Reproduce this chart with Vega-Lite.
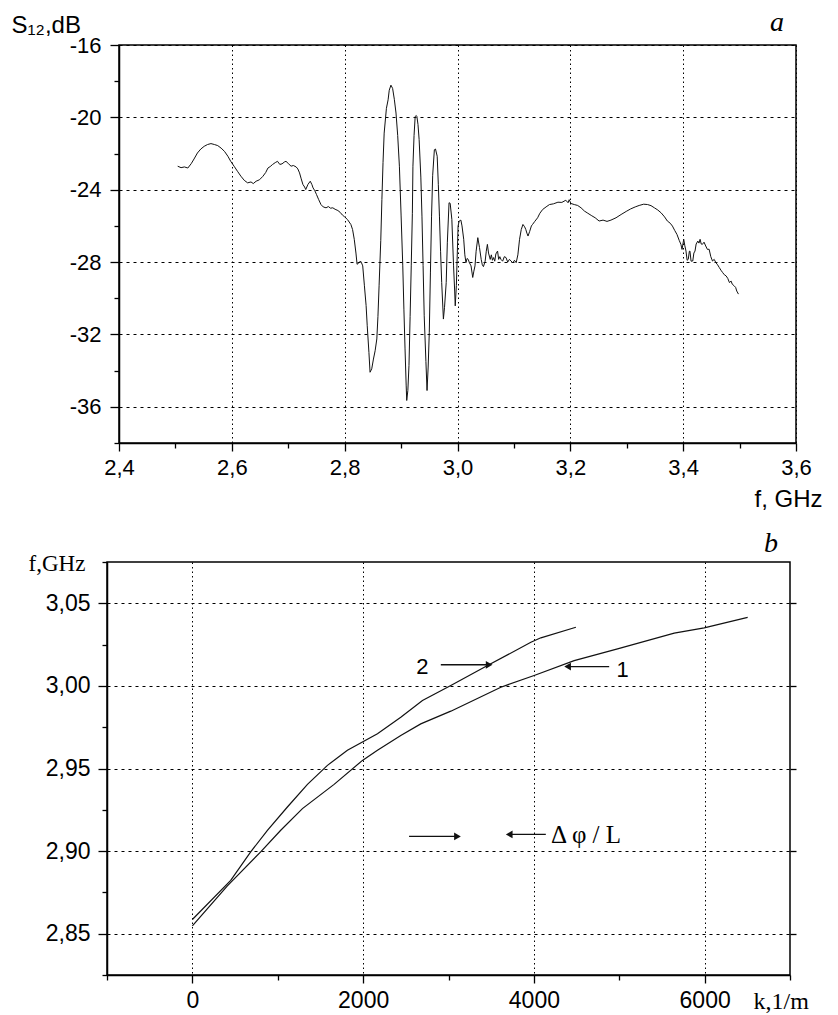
{
  "$schema": "https://vega.github.io/schema/vega-lite/v6.json",
  "padding": {"left": 10, "top": 8, "right": 5, "bottom": 5},
  "spacing": 17,
  "background": "#ffffff",
  "config": {
    "view": {"stroke": "#000", "strokeWidth": 1.5},
    "axis": {"domainColor": "#000", "domainWidth": 1.5, "tickColor": "#000", "tickWidth": 1.3, "labelColor": "#000", "titleColor": "#000", "gridColor": "#000", "gridWidth": 1, "labelFlush": false, "labelOverlap": false, "labelBound": false, "titleFontWeight": "normal", "labelFont": "Liberation Sans"},
    "title": {"color": "#000"}
  },
  "datasets": {
    "s12": [
      {"f":2.504,"db":-22.70},{"f":2.510,"db":-22.78},{"f":2.516,"db":-22.74},{"f":2.522,"db":-22.80},{"f":2.528,"db":-22.56},{"f":2.533,"db":-22.30},{"f":2.539,"db":-21.97},{"f":2.545,"db":-21.75},{"f":2.551,"db":-21.60},{"f":2.557,"db":-21.50},{"f":2.563,"db":-21.45},{"f":2.569,"db":-21.50},{"f":2.575,"db":-21.56},{"f":2.581,"db":-21.70},{"f":2.587,"db":-21.88},{"f":2.593,"db":-22.15},{"f":2.598,"db":-22.43},{"f":2.604,"db":-22.70},{"f":2.610,"db":-22.98},{"f":2.616,"db":-23.25},{"f":2.622,"db":-23.48},{"f":2.628,"db":-23.62},{"f":2.634,"db":-23.57},{"f":2.638,"db":-23.66},{"f":2.643,"db":-23.53},{"f":2.649,"db":-23.45},{"f":2.655,"db":-23.26},{"f":2.660,"db":-23.05},{"f":2.664,"db":-22.80},{"f":2.668,"db":-22.72},{"f":2.672,"db":-22.61},{"f":2.677,"db":-22.50},{"f":2.681,"db":-22.43},{"f":2.685,"db":-22.60},{"f":2.689,"db":-22.57},{"f":2.693,"db":-22.47},{"f":2.696,"db":-22.43},{"f":2.700,"db":-22.55},{"f":2.705,"db":-22.70},{"f":2.709,"db":-22.66},{"f":2.714,"db":-22.74},{"f":2.717,"db":-22.85},{"f":2.720,"db":-23.07},{"f":2.723,"db":-23.40},{"f":2.726,"db":-23.71},{"f":2.729,"db":-23.85},{"f":2.731,"db":-23.99},{"f":2.735,"db":-23.70},{"f":2.739,"db":-23.53},{"f":2.742,"db":-23.72},{"f":2.744,"db":-23.90},{"f":2.747,"db":-24.05},{"f":2.750,"db":-24.26},{"f":2.754,"db":-24.55},{"f":2.758,"db":-24.82},{"f":2.762,"db":-24.95},{"f":2.767,"db":-25.00},{"f":2.771,"db":-24.93},{"f":2.775,"db":-25.02},{"f":2.779,"db":-25.00},{"f":2.783,"db":-25.08},{"f":2.788,"db":-25.15},{"f":2.792,"db":-25.25},{"f":2.796,"db":-25.40},{"f":2.800,"db":-25.50},{"f":2.805,"db":-25.65},{"f":2.811,"db":-25.92},{"f":2.814,"db":-26.20},{"f":2.817,"db":-26.74},{"f":2.820,"db":-27.50},{"f":2.822,"db":-28.12},{"f":2.825,"db":-28.05},{"f":2.828,"db":-27.94},{"f":2.830,"db":-28.05},{"f":2.832,"db":-28.21},{"f":2.835,"db":-29.31},{"f":2.838,"db":-30.40},{"f":2.840,"db":-31.52},{"f":2.843,"db":-33.00},{"f":2.845,"db":-34.09},{"f":2.848,"db":-33.90},{"f":2.851,"db":-33.36},{"f":2.854,"db":-32.90},{"f":2.857,"db":-32.25},{"f":2.859,"db":-31.00},{"f":2.861,"db":-29.31},{"f":2.864,"db":-26.80},{"f":2.866,"db":-24.54},{"f":2.868,"db":-22.50},{"f":2.870,"db":-20.87},{"f":2.874,"db":-19.50},{"f":2.877,"db":-19.03},{"f":2.879,"db":-18.50},{"f":2.882,"db":-18.22},{"f":2.885,"db":-18.40},{"f":2.888,"db":-19.00},{"f":2.891,"db":-19.76},{"f":2.894,"db":-21.00},{"f":2.897,"db":-22.70},{"f":2.900,"db":-25.40},{"f":2.903,"db":-28.21},{"f":2.905,"db":-30.60},{"f":2.907,"db":-32.80},{"f":2.909,"db":-34.80},{"f":2.910,"db":-35.65},{"f":2.912,"db":-35.10},{"f":2.914,"db":-33.72},{"f":2.916,"db":-31.00},{"f":2.918,"db":-28.21},{"f":2.920,"db":-25.30},{"f":2.921,"db":-22.70},{"f":2.923,"db":-21.00},{"f":2.925,"db":-19.95},{"f":2.927,"db":-19.90},{"f":2.928,"db":-19.95},{"f":2.930,"db":-20.40},{"f":2.932,"db":-21.23},{"f":2.935,"db":-23.30},{"f":2.937,"db":-25.46},{"f":2.939,"db":-28.20},{"f":2.941,"db":-30.97},{"f":2.944,"db":-33.50},{"f":2.946,"db":-35.10},{"f":2.948,"db":-33.80},{"f":2.950,"db":-31.88},{"f":2.952,"db":-28.60},{"f":2.954,"db":-25.46},{"f":2.956,"db":-23.20},{"f":2.959,"db":-21.79},{"f":2.961,"db":-21.75},{"f":2.964,"db":-22.15},{"f":2.966,"db":-23.70},{"f":2.968,"db":-25.46},{"f":2.970,"db":-27.40},{"f":2.972,"db":-29.13},{"f":2.975,"db":-31.15},{"f":2.977,"db":-30.50},{"f":2.980,"db":-29.13},{"f":2.982,"db":-26.90},{"f":2.985,"db":-24.72},{"f":2.987,"db":-24.75},{"f":2.990,"db":-25.64},{"f":2.993,"db":-28.21},{"f":2.995,"db":-29.60},{"f":2.996,"db":-30.42},{"f":2.998,"db":-29.30},{"f":2.999,"db":-28.21},{"f":3.001,"db":-26.01},{"f":3.003,"db":-25.73},{"f":3.006,"db":-25.68},{"f":3.008,"db":-26.00},{"f":3.011,"db":-26.74},{"f":3.013,"db":-27.60},{"f":3.015,"db":-28.03},{"f":3.017,"db":-27.80},{"f":3.019,"db":-27.85},{"f":3.021,"db":-28.03},{"f":3.024,"db":-28.21},{"f":3.027,"db":-28.85},{"f":3.029,"db":-28.50},{"f":3.031,"db":-28.21},{"f":3.033,"db":-27.40},{"f":3.036,"db":-26.65},{"f":3.039,"db":-27.20},{"f":3.042,"db":-27.85},{"f":3.044,"db":-28.15},{"f":3.046,"db":-28.25},{"f":3.049,"db":-27.95},{"f":3.051,"db":-27.40},{"f":3.053,"db":-27.02},{"f":3.055,"db":-27.50},{"f":3.058,"db":-27.85},{"f":3.060,"db":-27.60},{"f":3.062,"db":-27.90},{"f":3.064,"db":-27.75},{"f":3.066,"db":-27.95},{"f":3.068,"db":-27.55},{"f":3.071,"db":-27.39},{"f":3.073,"db":-27.85},{"f":3.075,"db":-27.70},{"f":3.077,"db":-27.85},{"f":3.080,"db":-27.95},{"f":3.083,"db":-27.70},{"f":3.086,"db":-27.75},{"f":3.089,"db":-28.00},{"f":3.092,"db":-27.85},{"f":3.095,"db":-27.94},{"f":3.098,"db":-28.05},{"f":3.101,"db":-27.90},{"f":3.104,"db":-28.03},{"f":3.107,"db":-27.60},{"f":3.110,"db":-26.74},{"f":3.113,"db":-26.20},{"f":3.116,"db":-25.92},{"f":3.119,"db":-26.05},{"f":3.121,"db":-26.19},{"f":3.123,"db":-26.40},{"f":3.125,"db":-26.56},{"f":3.128,"db":-26.30},{"f":3.131,"db":-26.00},{"f":3.133,"db":-25.92},{"f":3.137,"db":-25.75},{"f":3.142,"db":-25.55},{"f":3.146,"db":-25.30},{"f":3.151,"db":-25.09},{"f":3.157,"db":-24.95},{"f":3.163,"db":-24.82},{"f":3.170,"db":-24.78},{"f":3.178,"db":-24.69},{"f":3.185,"db":-24.70},{"f":3.192,"db":-24.58},{"f":3.196,"db":-24.72},{"f":3.198,"db":-24.55},{"f":3.201,"db":-24.76},{"f":3.207,"db":-24.82},{"f":3.213,"db":-24.87},{"f":3.219,"db":-25.00},{"f":3.225,"db":-25.18},{"f":3.231,"db":-25.30},{"f":3.237,"db":-25.42},{"f":3.244,"db":-25.55},{"f":3.251,"db":-25.73},{"f":3.258,"db":-25.68},{"f":3.265,"db":-25.75},{"f":3.272,"db":-25.68},{"f":3.281,"db":-25.55},{"f":3.290,"db":-25.37},{"f":3.299,"db":-25.20},{"f":3.307,"db":-25.06},{"f":3.315,"db":-24.95},{"f":3.322,"db":-24.87},{"f":3.330,"db":-24.80},{"f":3.337,"db":-24.82},{"f":3.343,"db":-24.88},{"f":3.349,"db":-25.00},{"f":3.355,"db":-25.12},{"f":3.361,"db":-25.28},{"f":3.367,"db":-25.50},{"f":3.372,"db":-25.73},{"f":3.377,"db":-25.85},{"f":3.381,"db":-26.01},{"f":3.385,"db":-26.25},{"f":3.389,"db":-26.47},{"f":3.393,"db":-26.80},{"f":3.396,"db":-27.02},{"f":3.398,"db":-27.30},{"f":3.401,"db":-26.74},{"f":3.403,"db":-27.10},{"f":3.405,"db":-27.39},{"f":3.407,"db":-27.90},{"f":3.409,"db":-27.85},{"f":3.411,"db":-27.40},{"f":3.412,"db":-27.39},{"f":3.414,"db":-27.95},{"f":3.417,"db":-27.94},{"f":3.419,"db":-27.50},{"f":3.421,"db":-27.39},{"f":3.423,"db":-27.00},{"f":3.426,"db":-26.84},{"f":3.428,"db":-26.95},{"f":3.430,"db":-26.74},{"f":3.432,"db":-27.00},{"f":3.434,"db":-27.02},{"f":3.437,"db":-26.90},{"f":3.440,"db":-27.11},{"f":3.443,"db":-27.30},{"f":3.446,"db":-27.29},{"f":3.449,"db":-27.70},{"f":3.452,"db":-27.94},{"f":3.455,"db":-27.85},{"f":3.458,"db":-28.03},{"f":3.461,"db":-28.15},{"f":3.464,"db":-28.30},{"f":3.467,"db":-28.45},{"f":3.470,"db":-28.58},{"f":3.473,"db":-28.70},{"f":3.476,"db":-28.76},{"f":3.479,"db":-28.90},{"f":3.482,"db":-29.13},{"f":3.485,"db":-29.05},{"f":3.487,"db":-29.22},{"f":3.490,"db":-29.30},{"f":3.493,"db":-29.40},{"f":3.495,"db":-29.60},{"f":3.498,"db":-29.77}
    ],
    "disp": [
      {"curve":"1","k":0,"f":2.8547},{"curve":"1","k":410,"f":2.8790},{"curve":"1","k":800,"f":2.8995},{"curve":"1","k":1035,"f":2.9126},{"curve":"1","k":1289,"f":2.9257},{"curve":"1","k":1660,"f":2.9404},{"curve":"1","k":1992,"f":2.9549},{"curve":"1","k":2168,"f":2.9610},{"curve":"1","k":2441,"f":2.9700},{"curve":"1","k":2675,"f":2.9770},{"curve":"1","k":3027,"f":2.9847},{"curve":"1","k":3613,"f":2.9992},{"curve":"1","k":4003,"f":3.0063},{"curve":"1","k":4472,"f":3.0153},{"curve":"1","k":4980,"f":3.0224},{"curve":"1","k":5644,"f":3.0319},{"curve":"1","k":5995,"f":3.0351},{"curve":"1","k":6504,"f":3.0415},
      {"curve":"2","k":0,"f":2.8586},{"curve":"2","k":449,"f":2.8823},{"curve":"2","k":683,"f":2.8995},{"curve":"2","k":879,"f":2.9126},{"curve":"2","k":1113,"f":2.9267},{"curve":"2","k":1348,"f":2.9404},{"curve":"2","k":1582,"f":2.9519},{"curve":"2","k":1816,"f":2.9610},{"curve":"2","k":2168,"f":2.9710},{"curve":"2","k":2441,"f":2.9810},{"curve":"2","k":2695,"f":2.9912},{"curve":"2","k":3027,"f":3.0002},{"curve":"2","k":3457,"f":3.0123},{"curve":"2","k":3965,"f":3.0264},{"curve":"2","k":4082,"f":3.0291},{"curve":"2","k":4492,"f":3.0355}
    ],
    "arrows": [
      {"k1":2910,"k2":3476,"f":3.0128,"dir":"right"},
      {"k1":4882,"k2":4395,"f":3.0117,"dir":"left"},
      {"k1":2538,"k2":3105,"f":2.9089,"dir":"right"},
      {"k1":4140,"k2":3711,"f":2.9101,"dir":"left"}
    ],
    "nums": [
      {"k":2695,"f":3.0117,"label":"2"},
      {"k":5039,"f":3.0097,"label":"1"}
    ],
    "phase": [
      {"k":4200,"f":2.9100,"label":"Δ φ / L"}
    ]
  },
  "vconcat": [
    {
      "bounds": "flush",
      "spacing": 0,
      "hconcat": [
        {
          "width": 12,
          "height": 10,
          "view": {"stroke": null},
          "data": {"values": []},
          "mark": {"type": "point", "opacity": 0}
        },
        {
          "width": 677,
          "height": 398,
          "title": {"text": "a", "anchor": "end", "frame": "group", "font": "Liberation Serif", "fontStyle": "italic", "fontSize": 28, "fontWeight": "normal", "dx": -12, "offset": -24},
          "data": {"name": "s12"},
          "mark": {"type": "line", "color": "#111", "strokeWidth": 1},
          "encoding": {
            "x": {
              "field": "f", "type": "quantitative",
              "scale": {"domain": [2.4, 3.6], "nice": false, "zero": false},
              "axis": {
                "values": [2.4, 2.5, 2.6, 2.7, 2.8, 2.9, 3.0, 3.1, 3.2, 3.3, 3.4, 3.5, 3.6],
                "labelExpr": "round(datum.value*10) % 2 == 0 ? replace(format(datum.value, '.1f'), '.', ',') : ''",
                "tickSize": {"condition": {"test": "round(datum.value*10) % 2 == 0", "value": 8}, "value": 5},
                "gridOpacity": {"condition": {"test": "round(datum.value*10) % 2 == 0", "value": 1}, "value": 0},
                "gridDash": [1.5, 3],
                "labelFontSize": 22, "labelPadding": 6,
                "title": "f, GHz", "titleFont": "Liberation Sans", "titleFontSize": 24,
                "titleX": 635, "titleY": 63, "titleAlign": "left", "titleBaseline": "alphabetic"
              }
            },
            "y": {
              "field": "db", "type": "quantitative",
              "scale": {"domain": [-38, -16], "nice": false, "zero": false},
              "axis": {
                "values": [-38, -36, -34, -32, -30, -28, -26, -24, -22, -20, -18, -16],
                "labelExpr": "abs(datum.value) % 4 == 0 ? toString(datum.value) : ''",
                "tickSize": {"condition": {"test": "abs(datum.value) % 4 == 0", "value": 9}, "value": 5},
                "gridOpacity": {"condition": {"test": "abs(datum.value) % 4 == 0", "value": 1}, "value": 0},
                "gridDash": [3, 4],
                "labelFontSize": 22, "labelPadding": 9,
                "title": "S₁₂,dB", "titleFont": "Liberation Sans", "titleFontSize": 24, "titleAngle": 0,
                "titleX": -108, "titleY": -13, "titleAlign": "left", "titleBaseline": "alphabetic"
              }
            }
          }
        }
      ]
    },
    {
      "width": 683,
      "height": 413,
      "title": {"text": "b", "anchor": "end", "frame": "group", "font": "Liberation Serif", "fontStyle": "italic", "fontSize": 28, "fontWeight": "normal", "dx": -12, "offset": -7},
      "layer": [
        {
          "data": {"name": "disp"},
          "mark": {"type": "line", "color": "#111", "strokeWidth": 1.2},
          "encoding": {
            "detail": {"field": "curve"},
            "x": {
              "field": "k", "type": "quantitative",
              "scale": {"domain": [-1000, 7000], "nice": false, "zero": false},
              "axis": {
                "values": [-1000, 0, 1000, 2000, 3000, 4000, 5000, 6000, 7000],
                "labelExpr": "datum.value % 2000 == 0 ? toString(datum.value) : ''",
                "tickSize": {"condition": {"test": "datum.value % 2000 == 0", "value": 8}, "value": 5},
                "gridOpacity": {"condition": {"test": "datum.value % 2000 == 0", "value": 1}, "value": 0},
                "gridDash": [1.5, 3],
                "labelFontSize": 23, "labelPadding": 6,
                "title": "k,1/m", "titleFont": "Liberation Serif", "titleFontSize": 24,
                "titleX": 646, "titleY": 33, "titleAlign": "left", "titleBaseline": "alphabetic"
              }
            },
            "y": {
              "field": "f", "type": "quantitative",
              "scale": {"domain": [2.825, 3.075], "nice": false, "zero": false},
              "axis": {
                "values": [2.825, 2.85, 2.875, 2.9, 2.925, 2.95, 2.975, 3.0, 3.025, 3.05, 3.075],
                "labelExpr": "round(datum.value*1000) % 50 == 0 ? replace(format(datum.value, '.2f'), '.', ',') : ''",
                "tickSize": {"condition": {"test": "round(datum.value*1000) % 50 == 0", "value": 9}, "value": 5},
                "gridOpacity": {"condition": {"test": "round(datum.value*1000) % 50 == 0", "value": 1}, "value": 0},
                "gridDash": [3, 4],
                "labelFontSize": 23, "labelPadding": 8,
                "title": "f,GHz", "titleFont": "Liberation Serif", "titleFontSize": 23, "titleAngle": 0,
                "titleX": -79, "titleY": 8, "titleAlign": "left", "titleBaseline": "alphabetic"
              }
            }
          }
        },
        {
          "data": {"name": "arrows"},
          "mark": {"type": "rule", "color": "#111", "strokeWidth": 1.3},
          "encoding": {
            "x": {"field": "k1", "type": "quantitative"},
            "x2": {"field": "k2"},
            "y": {
              "field": "f", "type": "quantitative",
              "axis": {"orient": "right", "labels": false, "grid": false, "domain": false, "ticks": true, "tickSize": 6, "values": [2.85, 2.9, 2.95, 3.0, 3.05], "title": null}
            }
          }
        },
        {
          "data": {"name": "arrows"},
          "mark": {"type": "point", "filled": true, "color": "#111", "size": 60, "opacity": 1},
          "encoding": {
            "x": {"field": "k2", "type": "quantitative"},
            "y": {"field": "f", "type": "quantitative", "axis": null},
            "shape": {"field": "dir", "type": "nominal", "scale": {"domain": ["right", "left"], "range": ["triangle-right", "triangle-left"]}, "legend": null}
          }
        },
        {
          "data": {"name": "nums"},
          "mark": {"type": "text", "font": "Liberation Sans", "fontSize": 22, "color": "#000", "align": "center", "baseline": "middle"},
          "encoding": {
            "x": {"field": "k", "type": "quantitative"},
            "y": {"field": "f", "type": "quantitative", "axis": null},
            "text": {"field": "label"}
          }
        },
        {
          "data": {"name": "phase"},
          "mark": {"type": "text", "font": "Liberation Serif", "fontSize": 25, "color": "#000", "align": "left", "baseline": "middle"},
          "encoding": {
            "x": {"field": "k", "type": "quantitative"},
            "y": {"field": "f", "type": "quantitative", "axis": null},
            "text": {"field": "label"}
          }
        }
      ],
      "resolve": {"axis": {"y": "independent"}}
    }
  ]
}
